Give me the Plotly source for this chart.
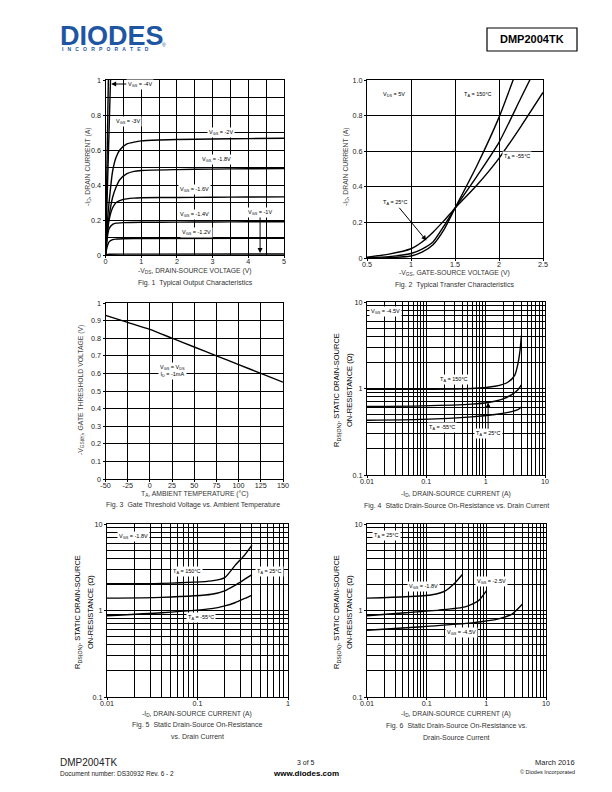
import numpy as np
import plotly.graph_objects as go

W, H = 604, 784          # figure size (page body adds an 8px margin)
OFF = 8                  # body margin of the page
FONT = "Liberation Sans"

# ---------------- data ----------------
# Fig 1: typical output characteristics (-VDS vs -ID)
f1_vgs4_x = [0, 0.08]
f1_vgs4_y = [0, 1.0]
f1_vgs3_x = [0, 0.14]
f1_vgs3_y = [0, 1.0]
f1_vgs20_x = [0, 0.05, 0.1, 0.2, 0.3, 0.4, 0.6, 0.8, 1, 1.5, 2, 3, 4, 5]
f1_vgs20_y = [0, 0.18, 0.3, 0.48, 0.56, 0.6, 0.635, 0.645, 0.652, 0.657, 0.66, 0.663, 0.665, 0.667]
f1_vgs18_x = [0, 0.05, 0.1, 0.2, 0.3, 0.4, 0.6, 0.8, 1, 2, 3, 4, 5]
f1_vgs18_y = [0, 0.13, 0.22, 0.33, 0.39, 0.43, 0.465, 0.478, 0.483, 0.488, 0.491, 0.493, 0.494]
f1_vgs16_x = [0, 0.05, 0.1, 0.2, 0.3, 0.5, 0.8, 1, 2, 3, 4, 5]
f1_vgs16_y = [0, 0.12, 0.2, 0.27, 0.3, 0.318, 0.325, 0.327, 0.329, 0.33, 0.331, 0.332]
f1_vgs14_x = [0, 0.05, 0.1, 0.2, 0.3, 0.5, 1, 2, 3, 4, 5]
f1_vgs14_y = [0, 0.1, 0.15, 0.175, 0.182, 0.185, 0.187, 0.188, 0.189, 0.19, 0.19]
f1_vgs12_x = [0, 0.05, 0.1, 0.2, 0.3, 0.5, 1, 5]
f1_vgs12_y = [0, 0.05, 0.075, 0.088, 0.091, 0.093, 0.094, 0.095]
f1_vgs10_x = [0, 0.1, 0.5, 1, 5]
f1_vgs10_y = [0, 0.004, 0.005, 0.005, 0.006]

# Fig 2: typical transfer characteristics
f2_vgs = [0.5, 0.75, 1.0, 1.125, 1.25, 1.375, 1.5, 1.75, 2.0, 2.25, 2.5]
f2_id_a = [0.0, 0.002, 0.011, 0.033, 0.075, 0.16, 0.28, 0.52, 0.79, 1.12, 1.45]
f2_id_b = [0.002, 0.008, 0.025, 0.05, 0.09, 0.18, 0.28, 0.46, 0.65, 0.9, 1.15]
f2_id_c = [0.005, 0.022, 0.052, 0.09, 0.145, 0.21, 0.28, 0.41, 0.56, 0.74, 0.93]

# Fig 3: gate threshold voltage vs ambient temperature
f3_temp = [-50, -25, 0, 25, 50, 75, 100, 125, 150]
f3_vth = [0.93, 0.89, 0.85, 0.80, 0.75, 0.70, 0.65, 0.60, 0.55]

# Fig 4: RDS(on) vs ID, VGS = -4.5V
f4_id_150 = [0.01, 0.084, 0.58, 1.44, 2.4, 3.1, 3.5, 3.8, 4.0]
f4_r_150 = [0.98, 0.98, 1.0, 1.06, 1.19, 1.43, 1.94, 2.77, 4.1]
f4_id_25 = [0.01, 0.084, 0.58, 1.1, 1.87, 2.75, 3.5, 4.0]
f4_r_25 = [0.62, 0.63, 0.66, 0.69, 0.75, 0.85, 0.97, 1.1]
f4_id_n55 = [0.01, 0.084, 0.58, 1.44, 2.4, 3.5, 4.0]
f4_r_n55 = [0.43, 0.44, 0.47, 0.5, 0.53, 0.57, 0.61]

# Fig 5: RDS(on) vs ID, VGS = -1.8V
f5_id = [0.01, 0.04, 0.143, 0.2, 0.259, 0.333, 0.4]
f5_r_150 = [2.04, 2.06, 2.2, 2.4, 3.3, 4.4, 5.7]
f5_r_25 = [1.39, 1.42, 1.54, 1.69, 1.95, 2.3, 2.6]
f5_r_n55 = [0.87, 0.94, 1.05, 1.13, 1.23, 1.38, 1.51]

# Fig 6: RDS(on) vs ID, TA = 25C
f6_id_18 = [0.01, 0.044, 0.123, 0.205, 0.3, 0.4]
f6_r_18 = [1.39, 1.44, 1.52, 1.69, 2.1, 2.62]
f6_id_25 = [0.01, 0.044, 0.16, 0.44, 0.74, 1.0]
f6_r_25 = [0.87, 0.94, 1.01, 1.1, 1.3, 1.69]
f6_id_45 = [0.01, 0.084, 0.57, 1.6, 2.7, 4.0]
f6_r_45 = [0.59, 0.65, 0.72, 0.80, 0.91, 1.18]

# ---------------- helpers ----------------
def fx(p):
    return (p - OFF) / W

def fy(p):
    return 1 - (p - OFF) / H

fig = go.Figure()

def line(x, y, n):
    xa = "x" if n == 1 else f"x{n}"
    ya = "y" if n == 1 else f"y{n}"
    fig.add_trace(go.Scatter(x=x, y=y, mode="lines", xaxis=xa, yaxis=ya,
                             line=dict(color="black", width=1.4, shape="spline", smoothing=0.6),
                             hoverinfo="skip"))

TICKFONT = dict(family=FONT, size=7.2, color="#222")

def common(axis_letter):
    d = dict(showline=True, linecolor="black", linewidth=1, mirror=True,
             showgrid=True, gridcolor="black", gridwidth=1, zeroline=False,
             ticks="outside", ticklen=2, tickcolor="black", tickfont=TICKFONT,
             fixedrange=True, automargin=False)
    if axis_letter == "x":
        d["ticklabelstandoff"] = -3
    return d

def lin_axis(letter, domain, rng, tickvals, ticktext, minor_dtick, anchor):
    d = dict(domain=domain, range=rng, tickmode="array", tickvals=tickvals, ticktext=ticktext,
             anchor=anchor, **common(letter))
    if minor_dtick:
        d["minor"] = dict(tickmode="linear", tick0=rng[0], dtick=minor_dtick, showgrid=True,
                          gridcolor="black", gridwidth=1, ticks="")
    return d

def log_axis(letter, domain, dec_lo, dec_hi, ticktext, anchor):
    majors = [10.0 ** k for k in range(dec_lo, dec_hi + 1)]
    minors = [m * 10.0 ** k for k in range(dec_lo, dec_hi) for m in range(2, 10)]
    return dict(domain=domain, type="log", range=[dec_lo, dec_hi], tickmode="array",
                tickvals=majors, ticktext=ticktext,
                minor=dict(tickmode="array", tickvals=minors, showgrid=True,
                           gridcolor="black", gridwidth=1, ticks=""),
                anchor=anchor, **common(letter))

# plot frames in page pixels (left, right, top, bottom)
frames = {
    1: (105.5, 284, 80, 255),
    2: (367, 543, 80, 258),
    3: (105.5, 283, 303, 479),
    4: (367, 545, 302, 475),
    5: (107, 288, 524, 697),
    6: (367, 546, 524, 697),
}

def dom(n):
    l, r, t, b = frames[n]
    return [fx(l), fx(r)], [fy(b), fy(t)]

layout_axes = {}
# Fig 1
dx, dy = dom(1)
layout_axes["xaxis"] = lin_axis("x", dx, [0, 5], [0, 1, 2, 3, 4, 5], ["0", "1", "2", "3", "4", "5"], 0.5, "y")
layout_axes["yaxis"] = lin_axis("y", dy, [0, 1], [0, 0.2, 0.4, 0.6, 0.8, 1], ["0", "0.2", "0.4", "0.6", "0.8", "1"], 0.1, "x")
# Fig 2
dx, dy = dom(2)
layout_axes["xaxis2"] = lin_axis("x", dx, [0.5, 2.5], [0.5, 1, 1.5, 2, 2.5], ["0.5", "1", "1.5", "2", "2.5"], None, "y2")
layout_axes["yaxis2"] = lin_axis("y", dy, [0, 1], [0, 0.2, 0.4, 0.6, 0.8, 1], ["0", "0.2", "0.4", "0.6", "0.8", "1.0"], None, "x2")
# Fig 3
dx, dy = dom(3)
t3 = [-50, -25, 0, 25, 50, 75, 100, 125, 150]
layout_axes["xaxis3"] = lin_axis("x", dx, [-50, 150], t3, [str(v) for v in t3], None, "y3")
v3 = [round(0.1 * k, 1) for k in range(11)]
layout_axes["yaxis3"] = lin_axis("y", dy, [0, 1], v3, ["0"] + [f"{v:.1f}" for v in v3[1:-1]] + ["1"], None, "x3")
# Fig 4
dx, dy = dom(4)
layout_axes["xaxis4"] = log_axis("x", dx, -2, 1, ["0.01", "0.1", "1", "10"], "y4")
layout_axes["yaxis4"] = log_axis("y", dy, -1, 1, ["0.1", "1", "10"], "x4")
# Fig 5
dx, dy = dom(5)
layout_axes["xaxis5"] = log_axis("x", dx, -2, 0, ["0.01", "0.1", "1"], "y5")
layout_axes["yaxis5"] = log_axis("y", dy, -1, 1, ["0.1", "1", "10"], "x5")
# Fig 6
dx, dy = dom(6)
layout_axes["xaxis6"] = log_axis("x", dx, -2, 1, ["0.01", "0.1", "1", "10"], "y6")
layout_axes["yaxis6"] = log_axis("y", dy, -1, 1, ["0.1", "1", "10"], "x6")

# traces
for x, y in [(f1_vgs4_x, f1_vgs4_y), (f1_vgs3_x, f1_vgs3_y), (f1_vgs20_x, f1_vgs20_y),
             (f1_vgs18_x, f1_vgs18_y), (f1_vgs16_x, f1_vgs16_y), (f1_vgs14_x, f1_vgs14_y),
             (f1_vgs12_x, f1_vgs12_y), (f1_vgs10_x, f1_vgs10_y)]:
    line(x, y, 1)
for y in [f2_id_a, f2_id_b, f2_id_c]:
    line(f2_vgs, y, 2)
line(f3_temp, f3_vth, 3)
line(f4_id_150, f4_r_150, 4)
line(f4_id_25, f4_r_25, 4)
line(f4_id_n55, f4_r_n55, 4)
for y in [f5_r_150, f5_r_25, f5_r_n55]:
    line(f5_id, y, 5)
line(f6_id_18, f6_r_18, 6)
line(f6_id_25, f6_r_25, 6)
line(f6_id_45, f6_r_45, 6)

ann = []
LBL = dict(family=FONT, size=5.5, color="black")

def lab(n, x, y, text, log=False, **kw):
    xr = "x" if n == 1 else f"x{n}"
    yr = "y" if n == 1 else f"y{n}"
    if log:
        x, y = float(np.log10(x)), float(np.log10(y))
    a = dict(xref=xr, yref=yr, x=x, y=y, text=text, showarrow=False, font=LBL,
             bgcolor="white", borderpad=1)
    a.update(kw)
    ann.append(a)

def arrow_lab(n, x, y, ax, ay, text, log=False):
    xr = "x" if n == 1 else f"x{n}"
    yr = "y" if n == 1 else f"y{n}"
    if log:
        x, y, ax, ay = (float(np.log10(v)) for v in (x, y, ax, ay))
    ann.append(dict(xref=xr, yref=yr, x=x, y=y, ax=ax, ay=ay, axref=xr, ayref=yr,
                    text=text, showarrow=True, arrowhead=2, arrowsize=1, arrowwidth=1,
                    arrowcolor="black", font=LBL, bgcolor="white", borderpad=1))

# Fig 1 labels
arrow_lab(1, 0.16, 0.977, 0.96, 0.977, "V<sub>GS</sub> = -4V")
lab(1, 0.64, 0.762, "V<sub>GS</sub> = -3V")
lab(1, 3.24, 0.70, "V<sub>GS</sub> = -2V")
lab(1, 3.12, 0.545, "V<sub>GS</sub> = -1.8V")
lab(1, 2.48, 0.373, "V<sub>GS</sub> = -1.6V")
lab(1, 2.5, 0.23, "V<sub>GS</sub> = -1.4V")
lab(1, 2.55, 0.13, "V<sub>GS</sub> = -1.2V")
arrow_lab(1, 4.33, 0.012, 4.33, 0.243, "V<sub>GS</sub> = -1V")
# Fig 2 labels
lab(2, 0.81, 0.917, "V<sub>DS</sub> = 5V")
lab(2, 1.76, 0.917, "T<sub>A</sub> = 150°C")
lab(2, 2.21, 0.569, "T<sub>A</sub> = -55°C")
arrow_lab(2, 1.175, 0.098, 0.82, 0.31, "T<sub>A</sub> = 25°C")
# Fig 3 label
lab(3, 25, 0.615, "V<sub>GS</sub> = V<sub>DS</sub><br>I<sub>D</sub> = -1mA")
# Fig 4 labels
lab(4, 0.011, 7.7, "V<sub>GS</sub> = -4.5V", log=True, xanchor="left")
lab(4, 0.295, 1.27, "T<sub>A</sub> = 150°C", log=True)
lab(4, 0.187, 0.356, "T<sub>A</sub> = -55°C", log=True)
arrow_lab(4, 1.1, 0.69, 1.1, 0.30, "T<sub>A</sub> = 25°C", log=True)
# Fig 5 labels
lab(5, 0.0197, 7.2, "V<sub>GS</sub> = -1.8V", log=True)
lab(5, 0.076, 2.86, "T<sub>A</sub> = 150°C", log=True)
lab(5, 0.63, 2.8, "T<sub>A</sub> = 25°C", log=True)
lab(5, 0.11, 0.83, "T<sub>A</sub> = -55°C", log=True)
# Fig 6 labels
lab(6, 0.0216, 7.4, "T<sub>A</sub> = 25°C", log=True)
lab(6, 0.089, 1.87, "V<sub>GS</sub> = -1.8V", log=True)
lab(6, 1.2, 2.19, "V<sub>GS</sub> = -2.5V", log=True)
lab(6, 0.38, 0.56, "V<sub>GS</sub> = -4.5V", log=True)

def ptxt(x, y, text, size=7, color="#222", xanchor="center", angle=0, bold=False):
    if bold:
        text = f"<b>{text}</b>"
    ann.append(dict(xref="paper", yref="paper", x=fx(x), y=fy(y), text=text, showarrow=False,
                    xanchor=xanchor, yanchor="middle", textangle=angle,
                    font=dict(family=FONT, size=size, color=color)))

TT = 6.8
CAP = 7
# Fig 1 titles
ptxt(195, 271, "-V<sub>DS</sub>, DRAIN-SOURCE VOLTAGE (V)", TT, "#333")
ptxt(195, 283, "Fig. 1  Typical Output Characteristics", CAP, "#333")
ptxt(88, 167, "-I<sub>D</sub>, DRAIN CURRENT (A)", TT, "#444", angle=-90)
# Fig 2
ptxt(455, 273, "-V<sub>GS</sub>, GATE-SOURCE VOLTAGE (V)", TT, "#333")
ptxt(455, 285, "Fig. 2  Typical Transfer Characteristics", CAP, "#333")
ptxt(346, 167, "-I<sub>D</sub>, DRAIN CURRENT (A)", TT, "#444", angle=-90)
# Fig 3
ptxt(194, 494, "T<sub>A</sub>, AMBIENT TEMPERATURE (°C)", TT, "#333")
ptxt(193, 505, "Fig. 3  Gate Threshold Voltage vs. Ambient Temperature", CAP, "#333")
ptxt(81, 390, "-V<sub>GS(th)</sub>, GATE THRESHOLD VOLTAGE (V)", TT, "#444", angle=-90)
# Fig 4
ptxt(337, 390, "R<sub>DS(ON)</sub>, STATIC DRAIN-SOURCE", 7.5, "black", angle=-90)
ptxt(349, 390, "ON-RESISTANCE (Ω)", 7.5, "black", angle=-90)
ptxt(456, 494, "-I<sub>D</sub>, DRAIN-SOURCE CURRENT (A)", TT, "#333")
ptxt(456, 506, "Fig. 4  Static Drain-Source On-Resistance vs. Drain Current", CAP, "#333")
# Fig 5
ptxt(78, 612, "R<sub>DS(ON)</sub>, STATIC DRAIN-SOURCE", 7.5, "black", angle=-90)
ptxt(90, 612, "ON-RESISTANCE (Ω)", 7.5, "black", angle=-90)
ptxt(197, 714, "-I<sub>D</sub>, DRAIN-SOURCE CURRENT (A)", TT, "#333")
ptxt(197, 725, "Fig. 5  Static Drain-Source On-Resistance", CAP, "#333")
ptxt(197, 736, "vs. Drain Current", CAP, "#333")
# Fig 6
ptxt(337, 612, "R<sub>DS(ON)</sub>, STATIC DRAIN-SOURCE", 7.5, "black", angle=-90)
ptxt(349, 612, "ON-RESISTANCE (Ω)", 7.5, "black", angle=-90)
ptxt(456, 714, "-I<sub>D</sub>, DRAIN-SOURCE CURRENT (A)", TT, "#333")
ptxt(456, 726, "Fig. 6  Static Drain-Source On-Resistance vs.", CAP, "#333")
ptxt(456, 737, "Drain-Source Current", CAP, "#333")

# header
BLUE = "#1f56a3"
NB = "\u00a0\u00a0\u00a0"
ptxt(58, 36, "DIODES", 27, BLUE, xanchor="left", bold=True)
ptxt(60, 49.5, NB.join("INCORPORATED"), 5, BLUE, xanchor="left", bold=True)
ptxt(160, 45, "®", 5, BLUE, xanchor="left")
ptxt(532, 39.5, "DMP2004TK", 11, "black", bold=True)

# footer
ptxt(58, 762, "DMP2004TK", 10, "#222", xanchor="left")
ptxt(58, 773, "Document number: DS30932 Rev. 6 - 2", 6.5, "#222", xanchor="left")
ptxt(306, 762, "3 of 5", 7, "#222")
ptxt(306, 773, "www.diodes.com", 8, "black", bold=True)
ptxt(577, 762, "March 2016", 7.5, "#222", xanchor="right")
ptxt(577, 772, "© Diodes Incorporated", 5.5, "#222", xanchor="right")

shapes = [
    dict(type="rect", xref="paper", yref="paper", x0=fx(487), x1=fx(577), y0=fy(51), y1=fy(28),
         line=dict(color="black", width=1.2), fillcolor="rgba(0,0,0,0)"),
    dict(type="line", xref="paper", yref="paper", x0=fx(58), x1=fx(158), y0=fy(37.5), y1=fy(37.5),
         line=dict(color="white", width=1)),
]

fig.update_layout(width=W, height=H,
                  margin=dict(l=0, r=0, t=0, b=0, pad=0, autoexpand=False),
                  paper_bgcolor="white", plot_bgcolor="white", showlegend=False,
                  annotations=ann, shapes=shapes, **layout_axes)

fig.write_html("out.html")
